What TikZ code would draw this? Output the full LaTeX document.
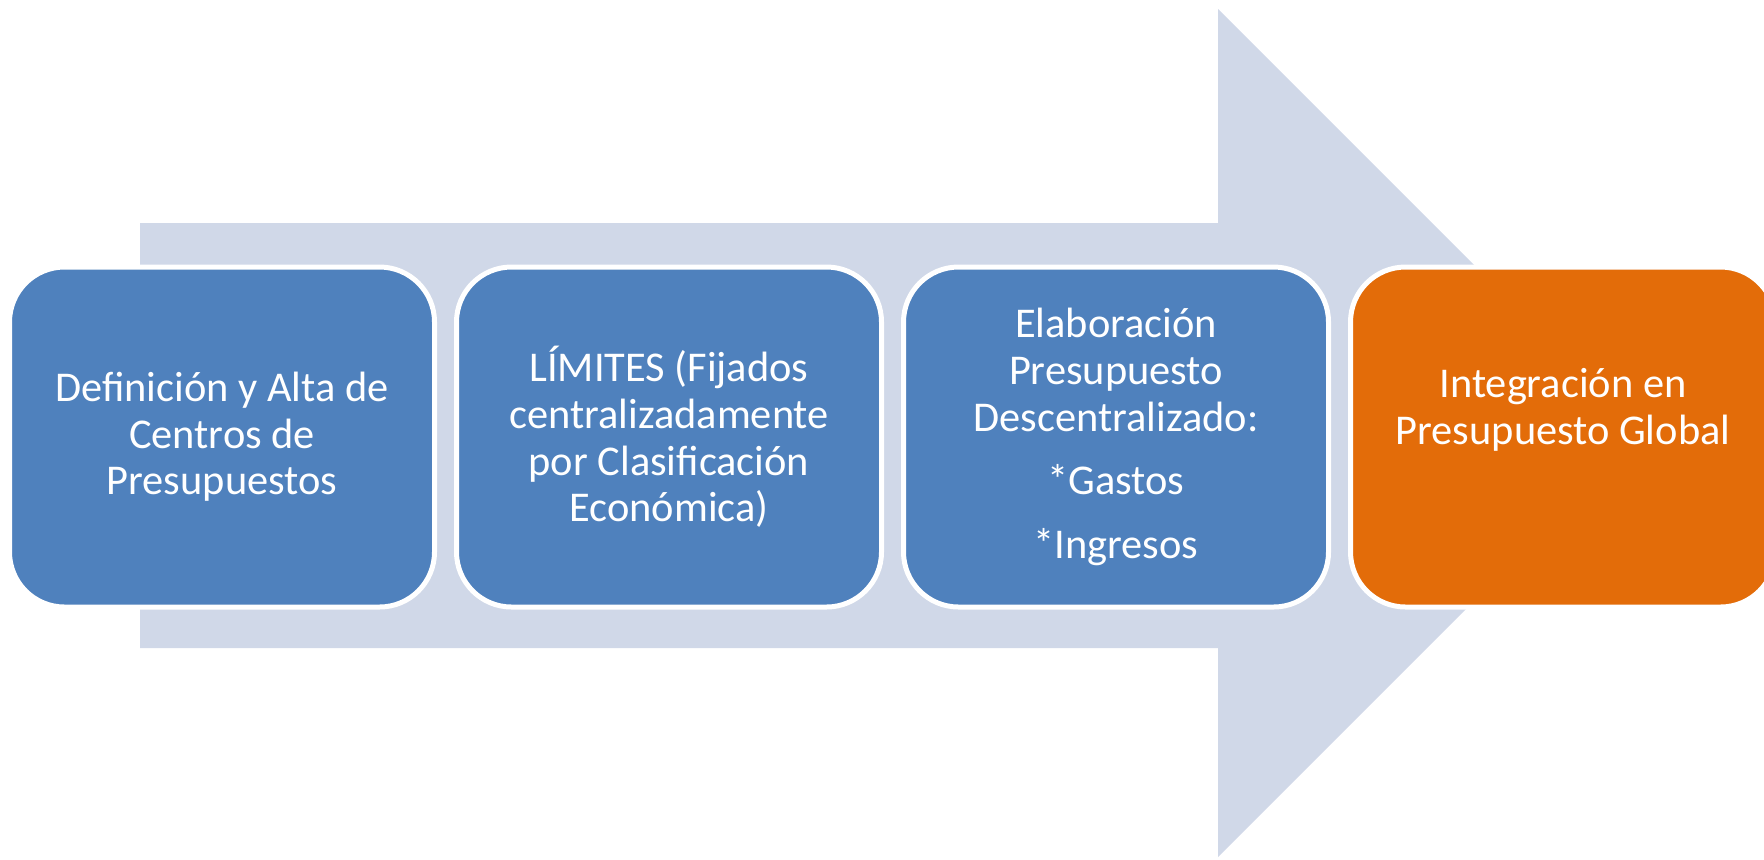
\documentclass[tikz,border=0pt]{standalone}
\usepackage{fontspec}
\setmainfont{Carlito}
\usetikzlibrary{positioning}
\definecolor{flecha}{HTML}{D0D8E8}
\definecolor{paso}{HTML}{4F81BD}
\definecolor{final}{HTML}{E36C09}

\begin{document}
\begin{tikzpicture}[x=0.5pt, y=-0.5pt,
  node distance=11pt,
  caja/.style={draw=white, line width=2.5pt, rounded corners=27.5pt, align=center, text=white,
    font=\fontsize{21.2}{23.3}\selectfont, minimum width=212.5pt, minimum height=170pt, inner sep=0pt, outer sep=0pt},
  azul/.style={caja, fill=paso},
  naranja/.style={caja, fill=final}]
  \useasboundingbox (0,0) rectangle (1764,859);
  \clip (0,0) rectangle (1764,859);
  % flecha de fondo
  \fill[flecha] (140,223) -- (1218,223) -- (1218,9) -- (1642,433) -- (1218,857) -- (1218,648) -- (140,648) -- cycle;
  \node[azul] (alta) at (222,437) {Definición y Alta de\\Centros de\\Presupuestos};
  \node[azul, right=of alta] (limites) {LÍMITES (Fijados\\centralizadamente\\por Clasificación\\Económica)};
  \node[azul, right=of limites] (elab) {Elaboración\\Presupuesto\\Descentralizado:\\[8.5pt]*Gastos\\[8.5pt]*Ingresos};
  \node[naranja, right=of elab] (integ) {Integración en\\Presupuesto Global\\[7.5pt]};
\end{tikzpicture}
\end{document}
